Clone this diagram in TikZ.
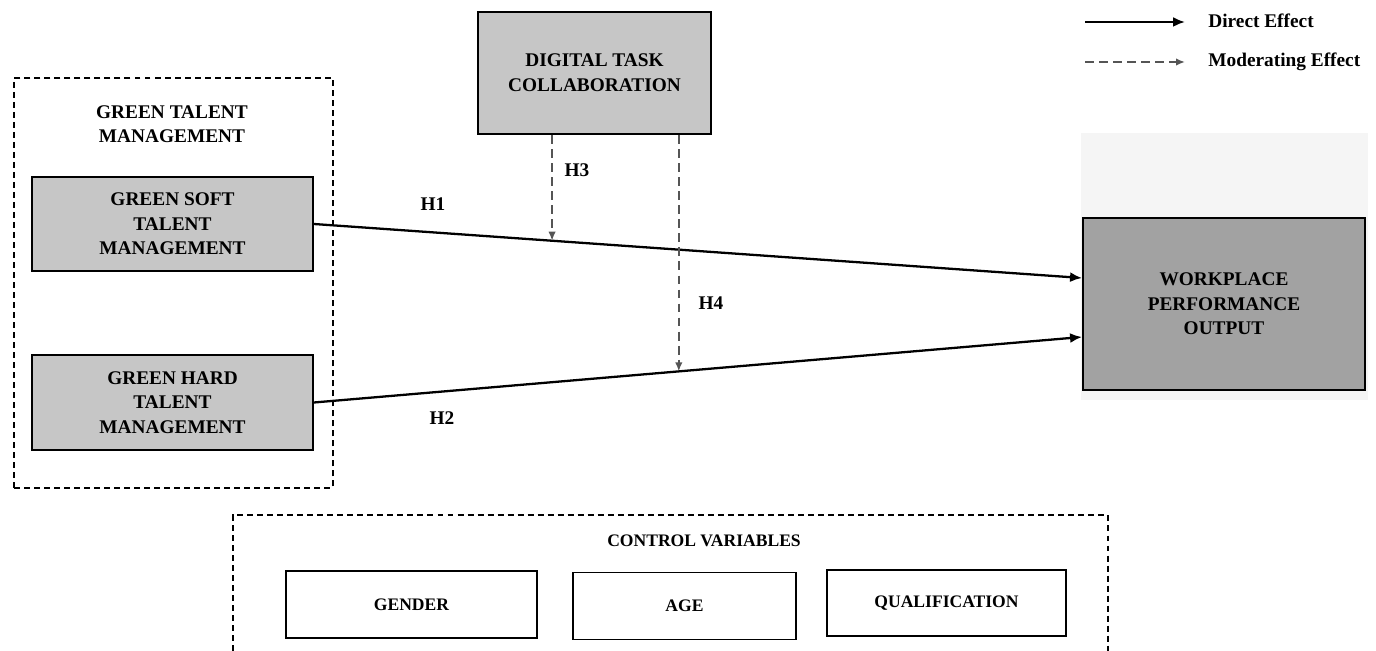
\documentclass[tikz,border=0pt]{standalone}
\usepackage{fontspec}
\setmainfont{Liberation Serif}
\usepackage{xcolor}
\usetikzlibrary{arrows.meta, positioning, calc}

\definecolor{boxgray}{HTML}{C6C6C6}
\definecolor{darkgray}{HTML}{A2A2A2}
\definecolor{modgray}{HTML}{555555}

\begin{document}
\begin{tikzpicture}[x=0.02cm, y=-0.02cm,
  every node/.style={font=\bfseries\fontsize{11}{14}\selectfont, align=center, inner sep=0pt},
  varbox/.style={draw, line width=1.1pt, fill=boxgray},
  ctrlbox/.style={draw, line width=1.1pt, fill=white, minimum height=1.34cm, font=\bfseries\fontsize{10}{12}\selectfont},
  group/.style={draw, line width=1pt, dash pattern=on 3.4pt off 2.3pt},
  direct/.style={line width=1.3pt, -{Latex[length=2.4mm, width=2mm]}},
  moderate/.style={line width=1pt, modgray, dash pattern=on 5pt off 3pt, -{Latex[length=1.8mm, width=1.5mm]}}]
\useasboundingbox (0,0) rectangle (1376,651);

% Green talent management block
\node[group, minimum width=6.38cm, minimum height=8.2cm] (gtm) at (173.5,283) {};
\node (gtmtitle) at (172,124) {GREEN TALENT\\MANAGEMENT};
\node[varbox, minimum width=5.62cm, minimum height=1.88cm] (gstm) at (172.5,224) {GREEN SOFT\\TALENT\\MANAGEMENT};
\node[varbox, minimum width=5.62cm, minimum height=1.9cm] (ghtm) at (172.5,402.5) {GREEN HARD\\TALENT\\MANAGEMENT};

% Moderator and outcome
\node[varbox, minimum width=4.66cm, minimum height=2.44cm] (dtc) at (594.5,73) {DIGITAL TASK\\COLLABORATION};
\fill[black!4] (1081,133) rectangle (1368,400);
\node[varbox, fill=darkgray, minimum width=5.64cm, minimum height=3.44cm] (wpo) at (1224,304) {WORKPLACE\\PERFORMANCE\\OUTPUT};

% Direct effects
\draw[direct] (gstm.east) -- coordinate[pos=0.31] (m1) ($(wpo.west)+(0,-26)$);
\draw[direct] (ghtm.east) -- coordinate[pos=0.475] (m2) ($(wpo.west)+(0,33)$);
\node (h1) at (433,204) {H1};
\node (h2) at (442,418) {H2};

% Moderating effects
\draw[moderate] (dtc.south -| m1) -- (m1);
\draw[moderate] (dtc.south -| m2) -- (m2);
\node (h3) at (577,170) {H3};
\node (h4) at (711,303) {H4};

% Legend
\node[anchor=west] (dlab) at (1208,21) {Direct Effect};
\node[anchor=west] (mlab) at (1208,62) {Moderating Effect};
\coordinate (ld) at (1085,22);
\coordinate (lm) at (1085,62);
\draw[direct] (ld) -- ($(dlab.west)+(-23,1)$);
\draw[moderate] (lm) -- ($(mlab.west)+(-23,0)$);

% Control variables
\draw[group] (233,651) |- (1108,515) -- (1108,651);
\node[font=\bfseries\fontsize{10}{12}\selectfont] (cv) at (704,541) {CONTROL VARIABLES};
\node[ctrlbox, minimum width=5.02cm] (gender) at (411.5,604.5) {GENDER};
\node[ctrlbox, minimum width=4.46cm] (age) at (684.5,606) {AGE};
\node[ctrlbox, minimum width=4.78cm, minimum height=1.32cm] (qual) at (946.5,603) {QUALIFICATION};
\end{tikzpicture}
\end{document}
